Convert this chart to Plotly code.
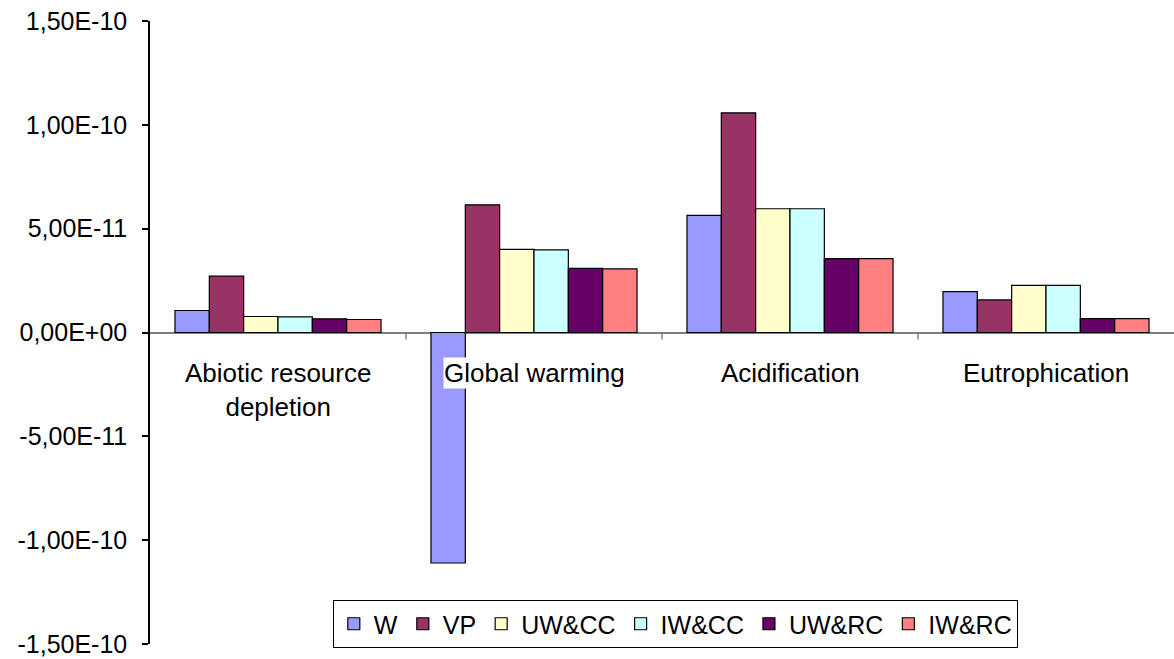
import plotly.graph_objects as go

categories = ["Abiotic resource<br>depletion", "Global warming", "Acidification", "Eutrophication"]

series_names = ["W", "VP", "UW&CC", "IW&CC", "UW&RC", "IW&RC"]
series_colors = ["#9999FF", "#993366", "#FFFFCC", "#CCFFFF", "#660066", "#FF8080"]

w_vals = [1.06e-11, -1.11e-10, 5.64e-11, 1.97e-11]
vp_vals = [2.71e-11, 6.15e-11, 1.058e-10, 1.57e-11]
uwcc_vals = [7.7e-12, 4.0e-11, 5.96e-11, 2.27e-11]
iwcc_vals = [7.5e-12, 3.98e-11, 5.96e-11, 2.27e-11]
uwrc_vals = [6.6e-12, 3.09e-11, 3.56e-11, 6.7e-12]
iwrc_vals = [6.25e-12, 3.06e-11, 3.56e-11, 6.7e-12]

series_values = [w_vals, vp_vals, uwcc_vals, iwcc_vals, uwrc_vals, iwrc_vals]

y_tickvals = [1.5e-10, 1.0e-10, 5.0e-11, 0.0, -5.0e-11, -1.0e-10, -1.5e-10]
y_ticktext = ["1,50E-10", "1,00E-10", "5,00E-11", "0,00E+00", "-5,00E-11", "-1,00E-10", "-1,50E-10"]

FONT = "Liberation Sans, Arial, sans-serif"
xs = list(range(len(categories)))

W, H = 1174, 659
TOP, BOTTOM_GAP = 21, 15

fig = go.Figure()
for name, color, vals in zip(series_names, series_colors, series_values):
    fig.add_trace(go.Bar(
        x=xs, y=vals, name=name,
        marker=dict(color=color, line=dict(color="black", width=1.2)),
    ))

# category labels drawn over the bars with a white background
annotations = []
for i, cat in enumerate(categories):
    annotations.append(dict(
        x=i, y=0, xref="x", yref="y", text=cat, showarrow=False,
        yanchor="top", yshift=-24, bgcolor="white", borderpad=0,
        font=dict(family=FONT, size=26, color="black"),
    ))

# short tick marks between categories on the zero line
shapes = []
for i in range(1, len(categories)):
    shapes.append(dict(
        type="line", xref="x", yref="y", x0=i - 0.5, x1=i - 0.5,
        ysizemode="pixel", yanchor=0, y0=0, y1=-7,
        line=dict(color="#808080", width=1.5),
    ))

plot_h = H - TOP
fig.update_layout(
    width=W, height=H,
    margin=dict(l=150, r=0, t=TOP, b=0, autoexpand=False),
    paper_bgcolor="white", plot_bgcolor="white",
    barmode="group", bargap=0.195, bargroupgap=0,
    font=dict(family=FONT, size=26, color="black"),
    showlegend=True,
    legend=dict(
        orientation="h", x=0.513, xanchor="center",
        y=(BOTTOM_GAP + 44) / plot_h, yanchor="top",
        bordercolor="black", borderwidth=1, bgcolor="white",
        font=dict(family=FONT, size=25, color="black"),
        itemwidth=30, tracegroupgap=0,
    ),
    annotations=annotations,
    shapes=shapes,
)
fig.update_xaxes(
    range=[-0.5, 3.5], showgrid=False, showticklabels=False, ticks="",
    showline=False, zeroline=False, fixedrange=True,
)
fig.update_yaxes(
    domain=[BOTTOM_GAP / plot_h, 1],
    range=[-1.5e-10, 1.5e-10], tickvals=y_tickvals, ticktext=y_ticktext,
    showgrid=False, zeroline=True, zerolinecolor="#808080", zerolinewidth=1.5,
    showline=True, linecolor="black", linewidth=1.5,
    ticks="outside", ticklen=6, tickcolor="black", tickwidth=1.5,
    ticklabelstandoff=10, ticklabeloverflow="allow", automargin=False,
    tickfont=dict(family=FONT, size=25, color="black"),
)

fig.write_html("out.html")
